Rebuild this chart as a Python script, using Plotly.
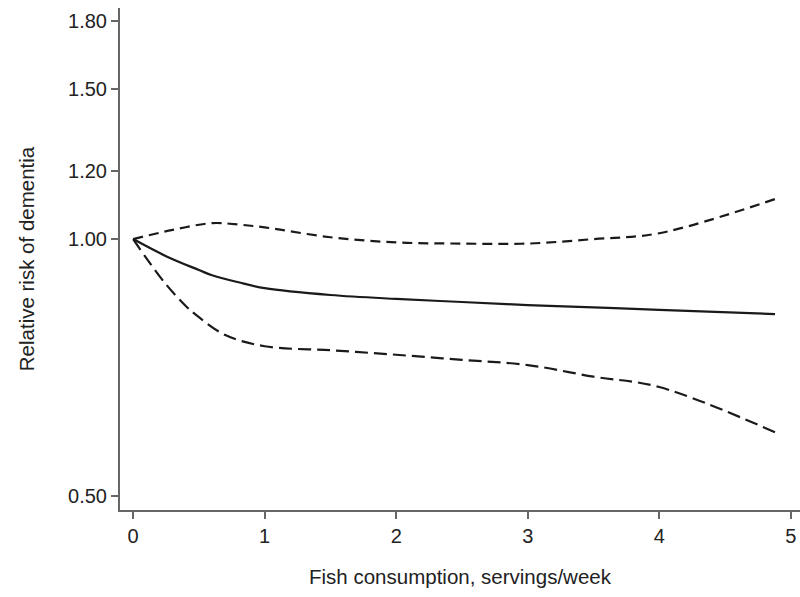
import numpy as np
import plotly.graph_objects as go

# Fish consumption (servings/week)
x_est = [0, 0.25, 0.5, 0.6, 0.8, 1.0, 1.5, 2.0, 2.5, 3.0, 3.5, 4.0, 4.88]
rr_est = [1.0, 0.955, 0.92, 0.907, 0.89, 0.876, 0.860, 0.851, 0.844, 0.837, 0.832, 0.826, 0.817]

x_upper = [0, 0.3, 0.6, 0.8, 1.0, 1.5, 2.0, 2.5, 3.0, 3.5, 4.0, 4.88]
rr_upper = [1.0, 1.025, 1.044, 1.040, 1.032, 1.005, 0.991, 0.988, 0.988, 1.000, 1.016, 1.114]

x_lower = [0, 0.1, 0.25, 0.4, 0.5, 0.7, 1.0, 1.5, 2.0, 2.5, 3.0, 3.5, 4.0, 4.88]
rr_lower = [1.0, 0.95, 0.885, 0.835, 0.810, 0.772, 0.749, 0.741, 0.732, 0.722, 0.712, 0.690, 0.671, 0.594]

y_tickvals = [0.5, 1.0, 1.2, 1.5, 1.8]
y_ticktext = ["0.50", "1.00", "1.20", "1.50", "1.80"]
x_tickvals = [0, 1, 2, 3, 4, 5]

fig = go.Figure()
fig.add_trace(go.Scatter(x=x_upper, y=rr_upper, mode="lines", line_shape="spline",
                         line=dict(color="#1a1a1a", width=2.2, dash="10px,6px")))
fig.add_trace(go.Scatter(x=x_est, y=rr_est, mode="lines", line_shape="spline",
                         line=dict(color="#1a1a1a", width=2.2)))
fig.add_trace(go.Scatter(x=x_lower, y=rr_lower, mode="lines", line_shape="spline",
                         line=dict(color="#1a1a1a", width=2.2, dash="13px,6px")))

fam = "Liberation Sans, Arial, sans-serif"
tick_font = dict(family=fam, size=20, color="#222222")
title_font = dict(family=fam, size=20.5, color="#222222")
fig.update_layout(
    width=800, height=597,
    margin=dict(l=120, r=0, t=8, b=87),
    paper_bgcolor="white", plot_bgcolor="white",
    showlegend=False,
    font=tick_font,
)
fig.update_xaxes(
    range=[-0.1, 5.07], tickvals=x_tickvals, ticks="outside", ticklen=7, tickwidth=1.5,
    tickcolor="#666666", showline=True, linecolor="#666666", linewidth=2,
    showgrid=False, zeroline=False, tickfont=tick_font,
    title=dict(text="Fish consumption, servings/week", font=title_font, standoff=24),
)
fig.update_yaxes(
    type="log", range=[np.log10(0.4816), np.log10(1.865)],
    tickvals=y_tickvals, ticktext=y_ticktext, ticks="outside", ticklen=7, tickwidth=1.5,
    tickcolor="#666666", showline=True, linecolor="#666666", linewidth=2,
    showgrid=False, zeroline=False, tickfont=tick_font,
    title=dict(text="Relative risk of dementia", font=title_font, standoff=28),
)
fig.write_html("out.html")
